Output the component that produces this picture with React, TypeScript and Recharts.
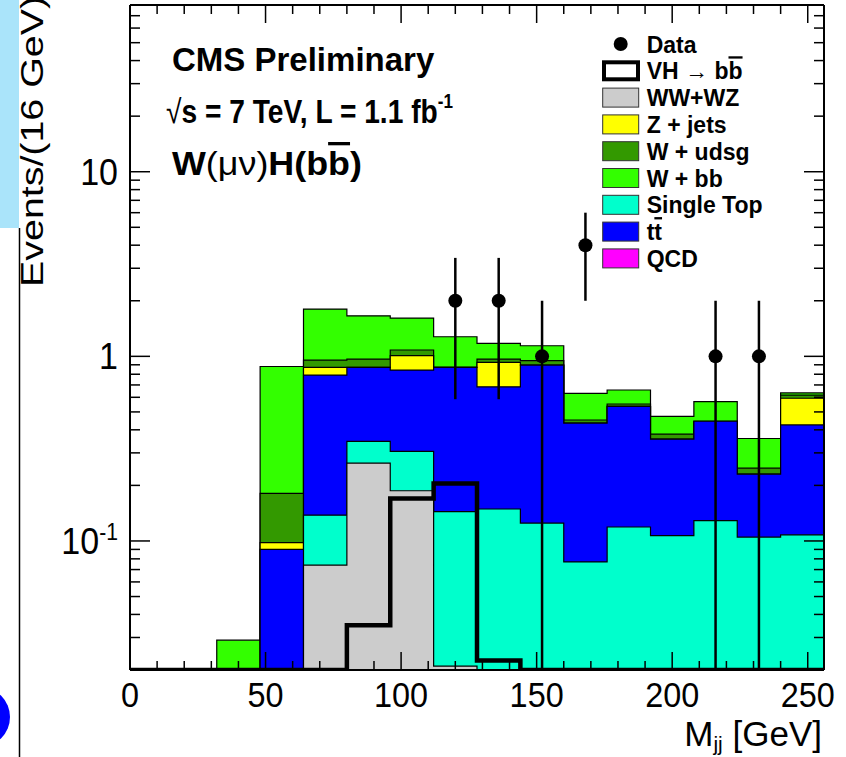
import React from 'react'
import {
  ComposedChart,
  Area,
  Line,
  Scatter,
  ErrorBar,
  XAxis,
  YAxis,
  Legend,
  ReferenceLine,
} from 'recharts'

// 16 GeV bins, low edges
const binLow = [0, 16, 32, 48, 64, 80, 96, 112, 128, 144, 160, 176, 192, 208, 224, 240]
const X_MAX = 256
const Y_MIN = 0.02
const Y_MAX = 80

// expected events per bin
const qcd = [0, 0, 0, 0, 0, 0, 0, 0, 0, 0, 0, 0, 0, 0, 0, 0]
const wwWz = [0, 0, 0, 0, 0.074, 0.264, 0.187, 0.021, 0, 0, 0, 0, 0, 0, 0, 0]
const singleTop = [0, 0, 0, 0, 0.064, 0.082, 0.119, 0.123, 0.149, 0.125, 0.077, 0.119, 0.107, 0.129, 0.105, 0.108]
const ttbar = [0, 0, 0, 0.09, 0.654, 0.526, 0.537, 0.728, 0.535, 0.772, 0.358, 0.417, 0.249, 0.316, 0.125, 0.317]
const zJets = [0, 0, 0, 0.008, 0.08, 0, 0.165, 0, 0.244, 0, 0, 0, 0, 0, 0, 0.168]
const wUdsg = [0, 0, 0, 0.083, 0.083, 0.095, 0.074, 0, 0.039, 0.05, 0.017, 0.016, 0.023, 0, 0.018, 0.023]
const wBb = [0, 0, 0.029, 0.7, 0.849, 0.69, 0.53, 0.405, 0.209, 0.194, 0.178, 0.105, 0.094, 0.123, 0.111, 0.018]
const vhSignal = [0, 0, 0, 0, 0, 0.035, 0.17, 0.205, 0.0225, 0, 0, 0, 0, 0, 0, 0]

// observed data
const dataMjj = [120, 136, 152, 168, 216, 232]
const dataEvents = [2, 2, 1, 4, 1, 1]

const xTicks = [0, 10, 20, 30, 40, 50, 60, 70, 80, 90, 100, 110, 120, 130, 140, 150, 160, 170, 180, 190, 200, 210, 220, 230, 240, 250]
const yTicks = [
  0.02, 0.03, 0.04, 0.05, 0.06, 0.07, 0.08, 0.09,
  0.1, 0.2, 0.3, 0.4, 0.5, 0.6, 0.7, 0.8, 0.9,
  1, 2, 3, 4, 5, 6, 7, 8, 9,
  10, 20, 30, 40, 50, 60, 70, 80,
]

// stack order, bottom first
const layers = [
  { key: 'qcd', name: 'QCD', color: '#ff00ff', values: qcd },
  { key: 'wwwz', name: 'WW+WZ', color: '#cccccc', values: wwWz },
  { key: 'stop', name: 'Single Top', color: '#00ffcc', values: singleTop },
  { key: 'tt', name: 'tt', color: '#0000ff', values: ttbar },
  { key: 'zj', name: 'Z + jets', color: '#ffff00', values: zJets },
  { key: 'wudsg', name: 'W + udsg', color: '#339900', values: wUdsg },
  { key: 'wbb', name: 'W + bb', color: '#33ff00', values: wBb },
]

const rows = [...binLow, X_MAX].map((x, i) => {
  const b = Math.min(i, binLow.length - 1)
  const row: Record<string, number> = { x, vh: Math.max(vhSignal[b], Y_MIN) }
  let sum = 0
  layers.forEach((l) => {
    sum += l.values[b]
    row[l.key] = Math.max(sum, Y_MIN)
  })
  return row
})

const points = dataMjj.map((x, i) => {
  const n = dataEvents[i]
  const e = Math.sqrt(n)
  return { x, y: n, err: [Math.min(e, n - Y_MIN), e] }
})

const W = 846
const H = 757
const PL = 130
const PR = 824
const PT = 5
const PB = 670
const FONT = '"Liberation Sans", Arial, Helvetica, sans-serif'

const XTick = (props: any) => {
  const { x, payload } = props
  const v = payload.value
  const major = v % 50 === 0
  const len = major ? 18 : 9
  return (
    <g>
      <line x1={x} x2={x} y1={PB} y2={PB - len} stroke="#000" strokeWidth={1.5} />
      <line x1={x} x2={x} y1={PT} y2={PT + len} stroke="#000" strokeWidth={1.5} />
      {major && (
        <text transform={`translate(${x},707) scale(0.9,1)`} textAnchor="middle" fontSize={36} fontFamily={FONT} fill="#000">
          {v}
        </text>
      )}
    </g>
  )
}

const YTick = (props: any) => {
  const { y, payload } = props
  const v = payload.value
  const major = v === 0.1 || v === 1 || v === 10
  const len = major ? 20 : 10
  return (
    <g>
      <line x1={PL} x2={PL + len} y1={y} y2={y} stroke="#000" strokeWidth={1.5} />
      <line x1={PR - len} x2={PR} y1={y} y2={y} stroke="#000" strokeWidth={1.5} />
      {major && (
        <text transform={`translate(118,${y + 13}) scale(0.92,1)`} textAnchor="end" fontSize={37} fontFamily={FONT} fill="#000">
          {v === 0.1 ? (
            <>
              <tspan>10</tspan>
              <tspan dy={-14} fontSize={23}>-1</tspan>
            </>
          ) : (
            String(v)
          )}
        </text>
      )}
    </g>
  )
}

const legendRows = ['Data', 'VH', 'WW+WZ', 'Z + jets', 'W + udsg', 'W + bb', 'Single Top', 'tt', 'QCD']

const LegendBox = () => {
  const colorOf = (name: string) => layers.find((l) => l.name === name)?.color
  return (
    <svg width={250} height={250} style={{ display: 'block' }}>
      {legendRows.map((name, i) => {
        const cy = 16 + i * 26.8
        let glyph
        let label: React.ReactNode = name
        if (name === 'Data') {
          glyph = <circle cx={24.7} cy={cy} r={7} fill="#000" />
        } else if (name === 'VH') {
          glyph = <rect x={8} y={cy - 8.5} width={34} height={17} fill="#fff" stroke="#000" strokeWidth={4} />
          label = (
            <>
              <tspan>VH </tspan>
              <tspan fontWeight="normal">→</tspan>
              <tspan> b</tspan>
              <tspan style={{ textDecoration: 'overline' }}>b</tspan>
            </>
          )
        } else {
          glyph = <rect x={6.7} y={cy - 9.5} width={36} height={19} fill={colorOf(name)} stroke="#333" strokeWidth={1} />
          if (name === 'tt') {
            label = (
              <>
                <tspan>t</tspan>
                <tspan style={{ textDecoration: 'overline' }}>t</tspan>
              </>
            )
          }
        }
        return (
          <g key={name}>
            {glyph}
            <text x={50.7} y={cy + 8.5} fontSize={23} fontWeight="bold" fontFamily={FONT} fill="#000">
              {label}
            </text>
          </g>
        )
      })}
    </svg>
  )
}

export default function App() {
  return (
    <div style={{ position: 'absolute', left: 0, top: 0, width: W, height: H, background: '#fff', overflow: 'hidden' }}>
      <ComposedChart width={W} height={H} data={rows} margin={{ top: PT, right: W - PR, bottom: 0, left: 0 }}>
        {[...layers].reverse().map((l) => (
          <Area
            key={l.key}
            type="stepAfter"
            dataKey={l.key}
            name={l.name}
            fill={l.color}
            fillOpacity={1}
            stroke="#000"
            strokeWidth={1.2}
            baseValue="dataMin"
            dot={false}
            activeDot={false}
            isAnimationActive={false}
          />
        ))}
        <Line type="stepAfter" dataKey="vh" name="VH" stroke="#000" strokeWidth={4.5} dot={false} activeDot={false} isAnimationActive={false} />
        <Scatter
          data={points}
          dataKey="y"
          name="Data"
          fill="#000"
          isAnimationActive={false}
          shape={(p: any) => <circle cx={p.cx} cy={p.cy} r={7} fill="#000" />}
        >
          <ErrorBar dataKey="err" direction="y" width={0} stroke="#000" strokeWidth={2.5} />
        </Scatter>
        <ReferenceLine y={Y_MAX} stroke="#000" strokeWidth={2} />
        <ReferenceLine x={X_MAX} stroke="#000" strokeWidth={2} />
        <XAxis
          type="number"
          dataKey="x"
          domain={[0, X_MAX]}
          allowDataOverflow
          ticks={xTicks}
          interval={0}
          height={H - PB}
          tickLine={false}
          axisLine={{ stroke: '#000', strokeWidth: 2 }}
          tick={(p: any) => <XTick {...p} />}
        />
        <YAxis
          type="number"
          scale="log"
          domain={[Y_MIN, Y_MAX]}
          allowDataOverflow
          ticks={yTicks}
          interval={0}
          width={PL}
          tickLine={false}
          axisLine={{ stroke: '#000', strokeWidth: 2 }}
          tick={(p: any) => <YTick {...p} />}
        />
        <Legend
          layout="vertical"
          align="center"
          verticalAlign="middle"
          wrapperStyle={{ position: 'absolute', left: 596, top: 28, width: 250, height: 250 }}
          content={() => <LegendBox />}
        />
      </ComposedChart>
      <svg width={W} height={H} style={{ position: 'absolute', left: 0, top: 0, pointerEvents: 'none' }} fontFamily={FONT}>
        <rect x={0} y={0} width={19} height={228} fill="#aae4fa" />
        <line x1={19.5} x2={19.5} y1={228} y2={H} stroke="#000" strokeWidth={1.5} />
        <circle cx={-20} cy={717} r={30} fill="#0000ff" />
        <text transform="translate(43,-4) rotate(-90) scale(1.27,1)" textAnchor="end" fontSize={31} fill="#000">
          Events/(16 GeV)
        </text>
        <text x={822} y={746} textAnchor="end" fontSize={35} fill="#000">
          <tspan>M</tspan>
          <tspan dy={5} fontSize={21}>jj</tspan>
          <tspan dy={-5}> [GeV]</tspan>
        </text>
        <g fontWeight="bold" fill="#000">
          <text x={172} y={71} fontSize={33}>CMS Preliminary</text>
          <text x={166} y={123} fontSize={33} textLength={287} lengthAdjust="spacingAndGlyphs">
            <tspan fontWeight="normal">√</tspan>
            <tspan>s = 7 TeV, L = 1.1 fb</tspan>
            <tspan dy={-15} fontSize={20}>-1</tspan>
          </text>
          <text x={172} y={175} fontSize={33} textLength={190} lengthAdjust="spacingAndGlyphs">
            <tspan>W</tspan>
            <tspan fontWeight="normal">(μν)</tspan>
            <tspan>H(b</tspan>
            <tspan style={{ textDecoration: 'overline' }}>b</tspan>
            <tspan>)</tspan>
          </text>
        </g>
      </svg>
    </div>
  )
}
